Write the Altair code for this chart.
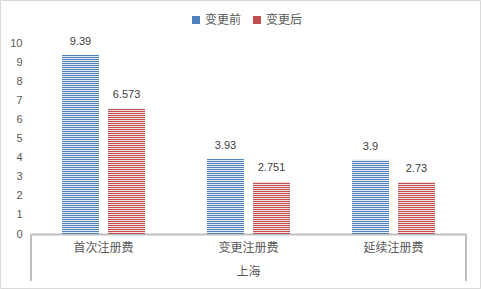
import altair as alt
import pandas as pd

# ---- data ----
categories = ["首次注册费", "变更注册费", "延续注册费"]
series = ["变更前", "变更后"]
before = [9.39, 3.93, 3.9]
after = [6.573, 2.751, 2.73]
before_labels = ["9.39", "3.93", "3.9"]
after_labels = ["6.573", "2.751", "2.73"]
parent = "上海"
y_ticks = list(range(0, 11))

rows = []
for c, v, l in zip(categories, before, before_labels):
    rows.append({"cat": c, "ser": series[0], "val": v, "lab": l})
for c, v, l in zip(categories, after, after_labels):
    rows.append({"cat": c, "ser": series[1], "val": v, "lab": l})
df = pd.DataFrame(rows)

# ---- layout / style ----
W, H = 435, 191
YMAX = 10
CJK = "Noto Sans CJK SC"
NUM = "Liberation Sans"
FG = ["#4F81BD", "#C0504D"]
BG = ["#E6EDF7", "#F6E2E2"]

# hatch pattern (1px line every 2px), anchored at zero, in data units through the y scale
PX = YMAX / H
stripe_rows = []
for r in rows:
    k = 0
    while (2 * k + 1) * PX <= r["val"] + 1e-9:
        stripe_rows.append({"cat": r["cat"], "ser": r["ser"],
                            "y0": 2 * k * PX, "y1": (2 * k + 1) * PX})
        k += 1
sdf = pd.DataFrame(stripe_rows)

x_enc = alt.X(
    "cat:N",
    sort=categories,
    scale=alt.Scale(domain=categories, paddingInner=0.4276, paddingOuter=0.2138),
    axis=alt.Axis(
        title=None, labelAngle=0, domainColor="#BFBFBF", domainWidth=2,
        ticks=False, labelPadding=8, labelFontSize=12, labelColor="#595959",
        labelFont=CJK,
    ),
)
xo_enc = alt.XOffset("ser:N", scale=alt.Scale(domain=series, paddingInner=0.1957, paddingOuter=0))
y_scale = alt.Scale(domain=[0, YMAX])
y_axis = alt.Axis(
    title=None, values=y_ticks, domain=False, ticks=False, grid=False,
    labelPadding=9, labelFontSize=11, labelColor="#595959", labelFont=NUM,
)
y_enc = alt.Y("val:Q", scale=y_scale, axis=y_axis)

bg = alt.Chart(df).mark_bar(strokeWidth=0).encode(
    x=x_enc,
    xOffset=xo_enc,
    y=y_enc,
    fill=alt.Fill(
        "ser:N",
        scale=alt.Scale(domain=series, range=BG),
        legend=None,
    ),
)

hatch = alt.Chart(sdf).mark_rect(strokeWidth=0).encode(
    x=x_enc,
    xOffset=xo_enc,
    y=alt.Y("y0:Q", scale=y_scale, axis=y_axis),
    y2="y1:Q",
    color=alt.Color(
        "ser:N",
        scale=alt.Scale(domain=series, range=FG),
        legend=alt.Legend(
            orient="none", legendX=159, legendY=-29, direction="horizontal",
            title=None, symbolType="square", symbolSize=64, symbolStrokeWidth=0,
            labelFontSize=12, labelColor="#595959", labelFont=CJK,
            labelOffset=3, columnPadding=9,
        ),
    ),
)

labels = alt.Chart(df).mark_text(
    baseline="bottom", dy=-8, fontSize=11, color="#404040", font=NUM
).encode(x=x_enc, xOffset=xo_enc, y=y_enc, text="lab:N")

pdata = alt.Data(values=[{"p": parent}])
sep_left = alt.Chart(pdata).mark_rule(color="#BFBFBF", strokeWidth=2).encode(
    x=alt.value(0), y=alt.value(H), y2=alt.value(H + 47)
)
sep_right = alt.Chart(pdata).mark_rule(color="#BFBFBF", strokeWidth=2).encode(
    x=alt.value(W), y=alt.value(H), y2=alt.value(H + 47)
)
parent_txt = alt.Chart(pdata).mark_text(
    fontSize=12, color="#595959", font=CJK, baseline="middle"
).encode(x=alt.value(W / 2), y=alt.value(H + 38), text="p:N")
border = alt.Chart(pdata).mark_rect(
    filled=False, stroke="#D9D9D9", strokeWidth=1
).encode(
    x=alt.value(-30.5), x2=alt.value(W + 14.5), y=alt.value(-42.5), y2=alt.value(H + 54.5)
)

chart = (
    alt.layer(bg, hatch, labels, sep_left, sep_right, parent_txt, border)
    .resolve_scale(fill="independent", color="independent")
    .properties(
        width=W, height=H,
        autosize=alt.AutoSizeParams(type="none"),
        padding={"left": 31, "top": 43, "right": 15, "bottom": 55},
        background="white",
    )
    .configure_view(stroke=None)
)

chart.save("out.html", embed_options={"renderer": "svg", "actions": False})
